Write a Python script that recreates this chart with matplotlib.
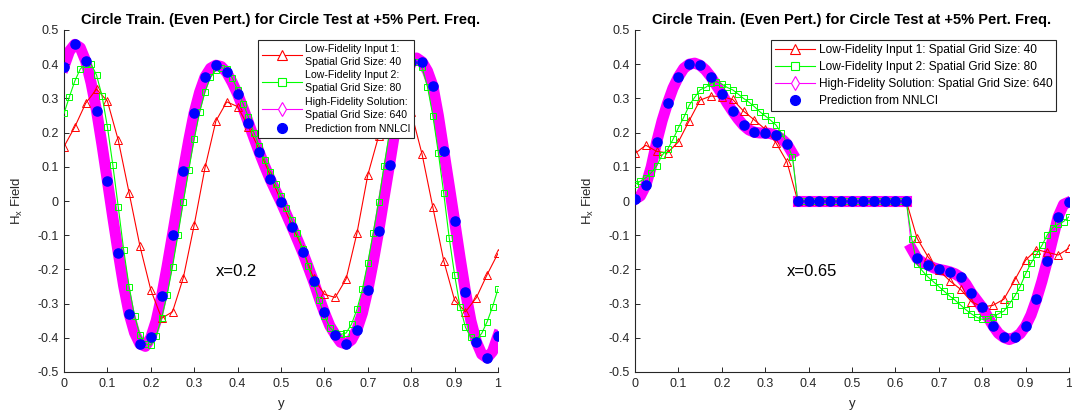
import matplotlib
matplotlib.use('Agg')
import matplotlib.pyplot as plt
from matplotlib.lines import Line2D
from matplotlib.ticker import FuncFormatter
import numpy as np

plt.rcParams['font.family'] = ['Liberation Sans', 'DejaVu Sans']
plt.rcParams['mathtext.default'] = 'regular'
plt.rcParams['axes.unicode_minus'] = False

# grids
y40 = np.linspace(0, 1, 41)   # NNLCI / low-fidelity 1 sample points
y80 = np.linspace(0, 1, 81)   # low-fidelity 2 / high-fidelity (read at 0.0125)

# ---- left panel, x=0.2 ----
hf_a = [0.393, 0.438, 0.458, 0.448, 0.409, 0.345, 0.264, 0.165, 0.059, -0.048,
        -0.151, -0.248, -0.329, -0.385, -0.418, -0.425, -0.399, -0.350, -0.278, -0.192,
        -0.099, -0.005, 0.089, 0.178, 0.258, 0.318, 0.363, 0.388, 0.397, 0.393,
        0.376, 0.347, 0.313, 0.272, 0.229, 0.185, 0.142, 0.102, 0.064, 0.030,
        -0.003, -0.039, -0.075, -0.112, -0.150, -0.192, -0.235, -0.282, -0.326, -0.365,
        -0.391, -0.413, -0.418, -0.406, -0.376, -0.328, -0.260, -0.178, -0.088, 0.010,
        0.106, 0.205, 0.290, 0.360, 0.405, 0.418, 0.407, 0.380, 0.336, 0.250,
        0.147, 0.045, -0.059, -0.165, -0.265, -0.350, -0.411, -0.448, -0.459, -0.440,
        -0.394]
lf1_a = [0.159, 0.217, 0.286, 0.327, 0.292, 0.178, 0.024, -0.132, -0.260, -0.343,
         -0.324, -0.224, -0.070, 0.098, 0.234, 0.290, 0.276, 0.217, 0.150, 0.075,
         0.000, -0.070, -0.140, -0.226, -0.273, -0.282, -0.228, -0.094, 0.076, 0.190,
         0.290, 0.320, 0.260, 0.137, -0.019, -0.175, -0.290, -0.324, -0.283, -0.215,
         -0.153]
lf2_a = [0.256, 0.305, 0.351, 0.386, 0.402, 0.400, 0.368, 0.308, 0.217, 0.105,
         -0.017, -0.143, -0.250, -0.336, -0.392, -0.418, -0.421, -0.394, -0.341, -0.275,
         -0.192, -0.099, -0.002, 0.091, 0.181, 0.260, 0.320, 0.362, 0.383, 0.390,
         0.385, 0.360, 0.325, 0.285, 0.245, 0.200, 0.160, 0.120, 0.085, 0.050,
         0.015, -0.020, -0.055, -0.095, -0.140, -0.190, -0.240, -0.290, -0.335, -0.370,
         -0.385, -0.390, -0.386, -0.360, -0.317, -0.258, -0.180, -0.093, -0.002, 0.103,
         0.200, 0.280, 0.340, 0.380, 0.400, 0.405, 0.391, 0.334, 0.249, 0.141,
         0.022, -0.107, -0.216, -0.309, -0.369, -0.399, -0.405, -0.387, -0.353, -0.309,
         -0.257]
nn_a = [0.393, 0.458, 0.409, 0.264, 0.059, -0.151, -0.329, -0.418, -0.399, -0.278,
        -0.099, 0.089, 0.258, 0.363, 0.397, 0.376, 0.313, 0.229, 0.142, 0.064,
        -0.003, -0.075, -0.150, -0.235, -0.326, -0.391, -0.418, -0.376, -0.260, -0.088,
        0.106, 0.290, 0.405, 0.407, 0.336, 0.147, -0.059, -0.265, -0.411, -0.459,
        -0.394]

# ---- right panel, x=0.65 ----
hf_b = [0.005, 0.015, 0.046, 0.100, 0.173, 0.235, 0.286, 0.330, 0.363, 0.388,
        0.400, 0.403, 0.397, 0.383, 0.363, 0.338, 0.313, 0.286, 0.262, 0.240,
        0.221, 0.208, 0.201, 0.199, 0.199, 0.197, 0.192, 0.182, 0.167, 0.140,
        0, 0, 0, 0, 0, 0, 0, 0, 0, 0,
        0, 0, 0, 0, 0, 0, 0, 0, 0, 0,
        0, -0.140, -0.168, -0.180, -0.187, -0.195, -0.200, -0.203, -0.207, -0.213,
        -0.223, -0.243, -0.269, -0.290, -0.311, -0.338, -0.365, -0.387, -0.399, -0.405,
        -0.399, -0.388, -0.366, -0.333, -0.288, -0.235, -0.175, -0.110, -0.046, -0.010,
        -0.003]
lf1_b = [0.139, 0.163, 0.145, 0.141, 0.173, 0.235, 0.295, 0.307, 0.305, 0.297,
         0.263, 0.237, 0.210, 0.170, 0.115, 0, 0, 0, 0, 0,
         0, 0, 0, 0, 0, 0, -0.109, -0.163, -0.202, -0.233,
         -0.258, -0.294, -0.310, -0.305, -0.287, -0.231, -0.173, -0.142, -0.150, -0.158,
         -0.138]
lf2_b = [0.049, 0.058, 0.068, 0.083, 0.103, 0.134, 0.151, 0.180, 0.214, 0.245,
         0.280, 0.303, 0.325, 0.332, 0.344, 0.349, 0.342, 0.332, 0.325, 0.313,
         0.300, 0.289, 0.276, 0.261, 0.249, 0.236, 0.222, 0.198, 0.170, 0.130,
         0, 0, 0, 0, 0, 0, 0, 0, 0, 0,
         0, 0, 0, 0, 0, 0, 0, 0, 0, 0,
         0, -0.110, -0.185, -0.205, -0.222, -0.236, -0.250, -0.264, -0.278, -0.290,
         -0.304, -0.318, -0.330, -0.340, -0.346, -0.345, -0.338, -0.330, -0.322, -0.301,
         -0.278, -0.250, -0.213, -0.182, -0.156, -0.130, -0.099, -0.078, -0.068, -0.060,
         -0.046]
nn_b = [0.005, 0.046, 0.173, 0.286, 0.363, 0.400, 0.397, 0.363, 0.313, 0.262,
        0.221, 0.201, 0.199, 0.192, 0.167, 0, 0, 0, 0, 0,
        0, 0, 0, 0, 0, 0, -0.168, -0.187, -0.200, -0.207,
        -0.223, -0.269, -0.311, -0.365, -0.399, -0.399, -0.366, -0.288, -0.175, -0.046,
        -0.003]

xticks = [0, 0.1, 0.2, 0.3, 0.4, 0.5, 0.6, 0.7, 0.8, 0.9, 1]
yticks = [-0.5, -0.4, -0.3, -0.2, -0.1, 0, 0.1, 0.2, 0.3, 0.4, 0.5]
titulo = 'Circle Train. (Even Pert.) for Circle Test at +5% Pert. Freq.'
labels_a = ['Low-Fidelity Input 1:\nSpatial Grid Size: 40',
            'Low-Fidelity Input 2:\nSpatial Grid Size: 80',
            'High-Fidelity Solution:\nSpatial Grid Size: 640',
            'Prediction from NNLCI']
labels_b = ['Low-Fidelity Input 1: Spatial Grid Size: 40',
            'Low-Fidelity Input 2: Spatial Grid Size: 80',
            'High-Fidelity Solution: Spatial Grid Size: 640',
            'Prediction from NNLCI']

gris = '#262626'


def panel(ax, hf, lf1, lf2, nn, nota, etiquetas, ancla, fs_leg, largo, espacio):
    hf = np.array(hf)
    # thick band of the fine solution, split where it jumps
    cortes = np.where(np.abs(np.diff(hf)) > 0.125)[0] + 1
    for yy, vv in zip(np.split(y80, cortes), np.split(hf, cortes)):
        ax.plot(yy, vv, color='#ff00ff', lw=8, solid_capstyle='projecting', zorder=1)
    ax.plot(y80, hf, color='#ff00ff', lw=0.6, zorder=1)
    ax.plot(y40, lf1, color='r', lw=0.8, marker='^', ms=6, mfc='none', mew=0.7, zorder=2)
    ax.plot(y80, lf2, color='#00ff00', lw=0.8, marker='s', ms=4.2, mfc='none', mew=0.7, zorder=3)
    ax.plot(y40, nn, ls='none', marker='o', ms=6.6, color='#0000ff', zorder=4)

    ax.set_xlim(0, 1)
    ax.set_ylim(-0.5, 0.5)
    ax.set_xticks(xticks)
    ax.set_yticks(yticks)
    fmt = FuncFormatter(lambda v, p: '%g' % round(v, 2))
    ax.xaxis.set_major_formatter(fmt)
    ax.yaxis.set_major_formatter(fmt)
    ax.tick_params(direction='in', length=3.5, width=0.7, colors=gris, labelsize=9, pad=4)
    for s in ['top', 'right']:
        ax.spines[s].set_visible(False)
    for s in ['left', 'bottom']:
        ax.spines[s].set_color(gris)
        ax.spines[s].set_linewidth(0.8)
    ax.set_title(titulo, fontsize=10.5, fontweight='bold', pad=4)
    ax.set_xlabel('y', fontsize=9.5, color=gris, labelpad=6)
    ax.set_ylabel('H$_x$ Field', fontsize=9.5, color=gris, labelpad=9)
    ax.text(0.35, -0.205, nota, fontsize=12, ha='left', va='center')

    mano = [Line2D([], [], color='r', lw=0.8, marker='^', ms=7, mfc='w', mew=0.8),
            Line2D([], [], color='#00ff00', lw=0.8, marker='s', ms=5.5, mfc='w', mew=0.8),
            Line2D([], [], color='#ff00ff', lw=0.8, marker='d', ms=7, mfc='w', mew=0.8),
            Line2D([], [], ls='none', marker='o', ms=7, color='#0000ff')]
    leg = ax.legend(mano, etiquetas, loc='upper left', bbox_to_anchor=ancla,
                    fontsize=fs_leg, handlelength=largo, handletextpad=0.3,
                    labelspacing=espacio, borderpad=0.35, borderaxespad=0,
                    fancybox=False, framealpha=1, edgecolor=gris)
    for t in leg.get_texts():
        t.set_linespacing(1.38)
    leg.get_frame().set_linewidth(0.8)
    leg.set_zorder(10)


fig = plt.figure(figsize=(10.72, 4.13), dpi=100)
ax1 = fig.add_axes([64/1072, 41/413, 434/1072, 342/413])
ax2 = fig.add_axes([635/1072, 41/413, 434/1072, 342/413])

panel(ax1, hf_a, lf1_a, lf2_a, nn_a, 'x=0.2', labels_a, (0.447, 0.971), 7.6, 3.8, 0.35)
panel(ax2, hf_b, lf1_b, lf2_b, nn_b, 'x=0.65', labels_b, (0.313, 0.971), 8.6, 3.35, 0.41)

fig.savefig('out.png', dpi=100)
